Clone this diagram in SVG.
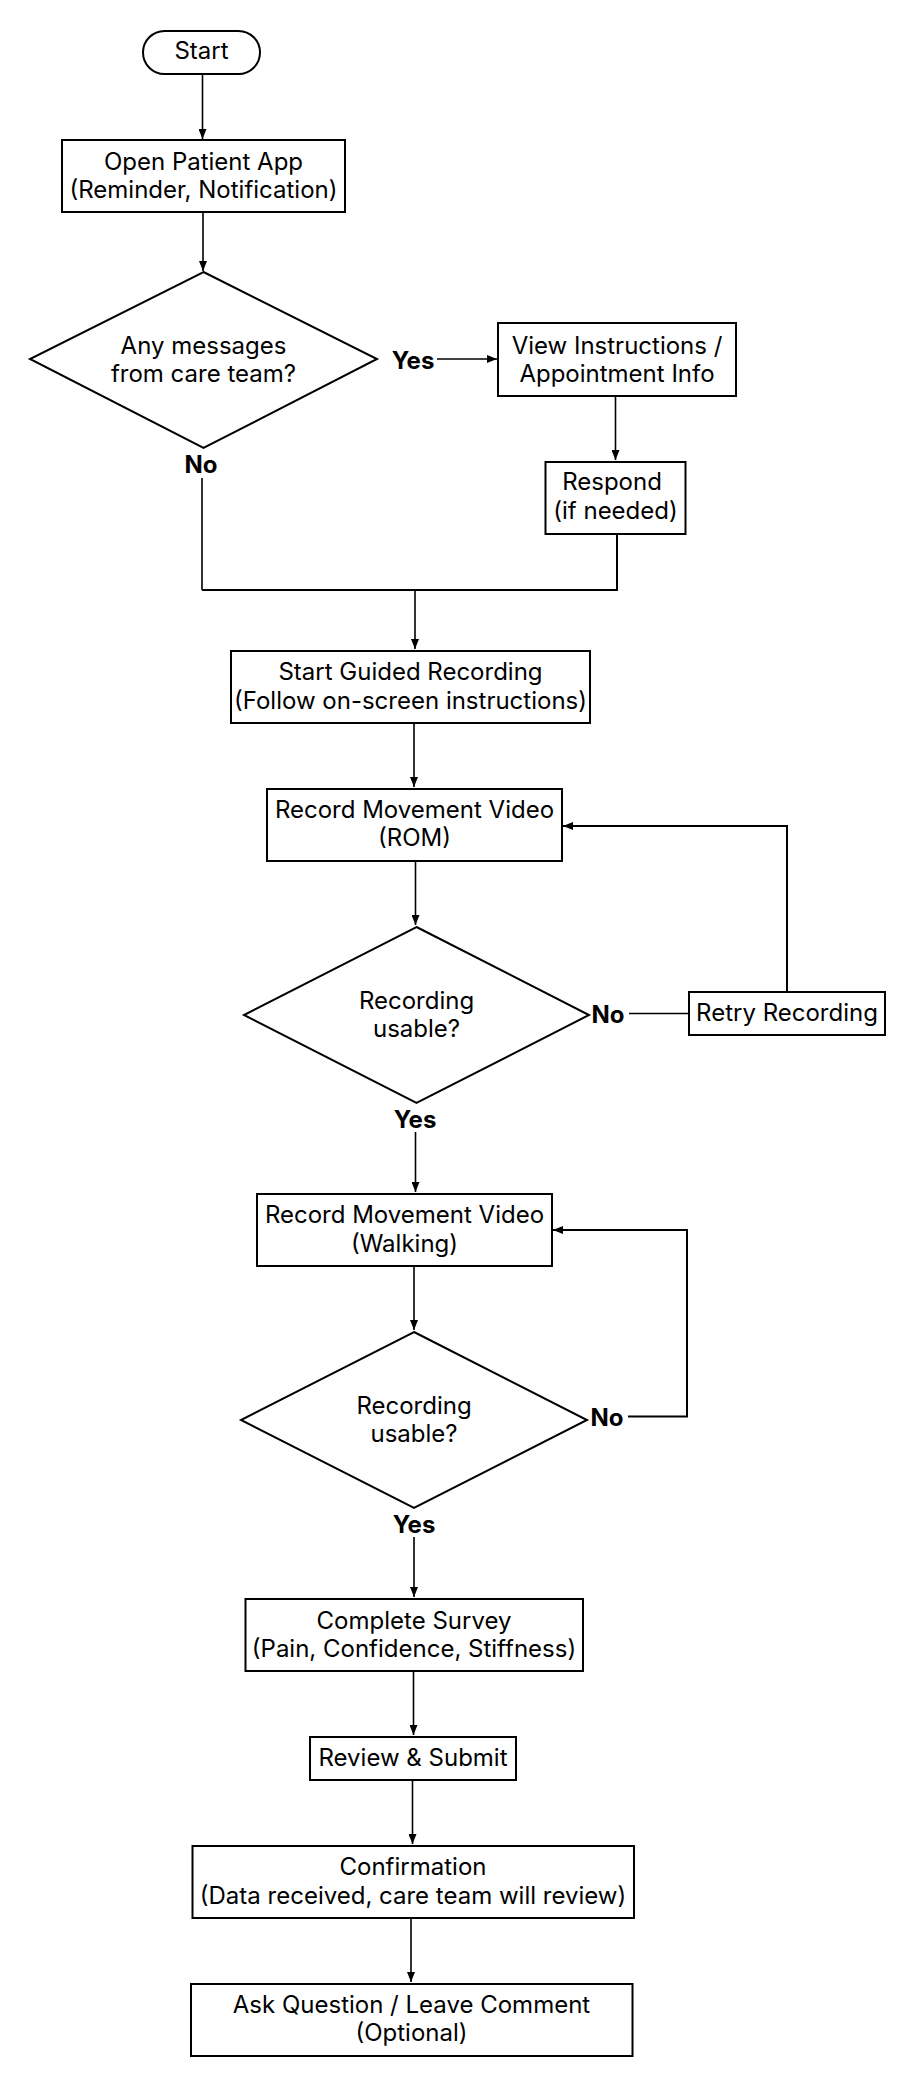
<svg xmlns="http://www.w3.org/2000/svg" width="910" height="2087" viewBox="0 0 910 2087">
<style>
.box{fill:#fff;stroke:#000;stroke-width:2}
.t{font-family:Inter,"Noto Sans","Liberation Sans",sans-serif;font-size:24px;fill:#000;text-anchor:middle;dominant-baseline:central}
.lb{font-family:Inter,"Noto Sans","Liberation Sans",sans-serif;font-size:24px;font-weight:bold;fill:#000;text-anchor:middle;dominant-baseline:central}
.c{fill:none;stroke:#000;stroke-width:1.6}
.c2{fill:none;stroke:#000;stroke-width:2}
</style>
<defs>
<marker id="ah" markerWidth="10" markerHeight="8" refX="10" refY="4" orient="auto" markerUnits="userSpaceOnUse">
<path d="M0,0 L10,4 L0,8 Z" fill="#000"/>
</marker>
</defs>
<rect width="910" height="2087" fill="#fff"/>
<g id="connectors">
<path class="c" d="M202.5,74 V139" marker-end="url(#ah)"/>
<path class="c" d="M203,212 V271" marker-end="url(#ah)"/>
<path class="c" d="M437,359 H497" marker-end="url(#ah)"/>
<path class="c" d="M615.5,396 V460" marker-end="url(#ah)"/>
<path class="c" d="M202,478 V590"/>
<path class="c2" d="M617,534 V590 H202"/>
<path class="c" d="M415,590 V649" marker-end="url(#ah)"/>
<path class="c" d="M414,723 V787" marker-end="url(#ah)"/>
<path class="c" d="M415.5,861 V925" marker-end="url(#ah)"/>
<path class="c" d="M629,1013.5 H689"/>
<path class="c2" d="M787,992 V826 H563" marker-end="url(#ah)"/>
<path class="c" d="M415.5,1132 V1192" marker-end="url(#ah)"/>
<path class="c" d="M414,1266 V1330" marker-end="url(#ah)"/>
<path class="c2" d="M628,1416.5 H687 V1230 H553" marker-end="url(#ah)"/>
<path class="c" d="M414,1537 V1597" marker-end="url(#ah)"/>
<path class="c" d="M413.5,1671 V1735" marker-end="url(#ah)"/>
<path class="c" d="M412.5,1780 V1844" marker-end="url(#ah)"/>
<path class="c" d="M411,1918 V1982" marker-end="url(#ah)"/>
<text class="lb" x="413" y="360">Yes</text>
<text class="lb" x="201" y="464">No</text>
<text class="lb" x="608" y="1014">No</text>
<text class="lb" x="415" y="1119">Yes</text>
<text class="lb" x="607" y="1417">No</text>
<text class="lb" x="414" y="1524">Yes</text>
</g>
<g id="start">
<rect class="box" x="143" y="31" width="117" height="43" rx="21.5"/>
<text class="t" x="201.5" y="50.5">Start</text>
</g>
<g id="open-app">
<rect class="box" x="62" y="140" width="283" height="72"/>
<text class="t" x="203.5" y="161">Open Patient App</text>
<text class="t" x="203.5" y="189">(Reminder, Notification)</text>
</g>
<g id="messages">
<polygon class="box" points="203.5,272 377,359 203.5,448 30,359"/>
<text class="t" x="203.5" y="345">Any messages</text>
<text class="t" x="203.5" y="373">from care team?</text>
</g>
<g id="view-instructions">
<rect class="box" x="498" y="323" width="238" height="73"/>
<text class="t" x="617" y="345">View Instructions /</text>
<text class="t" x="617" y="373">Appointment Info</text>
</g>
<g id="respond">
<rect class="box" x="545.5" y="462" width="140" height="72"/>
<text class="t" x="612" y="481">Respond</text>
<text class="t" x="615.5" y="510">(if needed)</text>
</g>
<g id="start-guided">
<rect class="box" x="231" y="651" width="359" height="72"/>
<text class="t" x="410.5" y="671">Start Guided Recording</text>
<text class="t" x="410.5" y="700">(Follow on-screen instructions)</text>
</g>
<g id="record-rom">
<rect class="box" x="267" y="789" width="295" height="72"/>
<text class="t" x="414.5" y="809">Record Movement Video</text>
<text class="t" x="414.5" y="837">(ROM)</text>
</g>
<g id="usable-1">
<polygon class="box" points="416.5,927 589,1015 416.5,1103 244,1015"/>
<text class="t" x="416.5" y="1000">Recording</text>
<text class="t" x="416.5" y="1028">usable?</text>
</g>
<g id="retry">
<rect class="box" x="689" y="992" width="196" height="43"/>
<text class="t" x="787" y="1012">Retry Recording</text>
</g>
<g id="record-walking">
<rect class="box" x="257" y="1194" width="295" height="72"/>
<text class="t" x="404.5" y="1214">Record Movement Video</text>
<text class="t" x="404.5" y="1243">(Walking)</text>
</g>
<g id="usable-2">
<polygon class="box" points="414,1332 587,1420 414,1508 241,1420"/>
<text class="t" x="414" y="1405">Recording</text>
<text class="t" x="414" y="1433">usable?</text>
</g>
<g id="survey">
<rect class="box" x="245.5" y="1599" width="337.5" height="72"/>
<text class="t" x="414" y="1620">Complete Survey</text>
<text class="t" x="414" y="1648">(Pain, Confidence, Stiffness)</text>
</g>
<g id="review">
<rect class="box" x="310" y="1737" width="206" height="43"/>
<text class="t" x="413" y="1757">Review &amp; Submit</text>
</g>
<g id="confirmation">
<rect class="box" x="192.5" y="1846" width="441.5" height="72"/>
<text class="t" x="413" y="1866">Confirmation</text>
<text class="t" x="413" y="1895">(Data received, care team will review)</text>
</g>
<g id="ask-question">
<rect class="box" x="191" y="1984" width="441.5" height="72"/>
<text class="t" x="411.5" y="2004">Ask Question / Leave Comment</text>
<text class="t" x="411.5" y="2032">(Optional)</text>
</g>
</svg>
